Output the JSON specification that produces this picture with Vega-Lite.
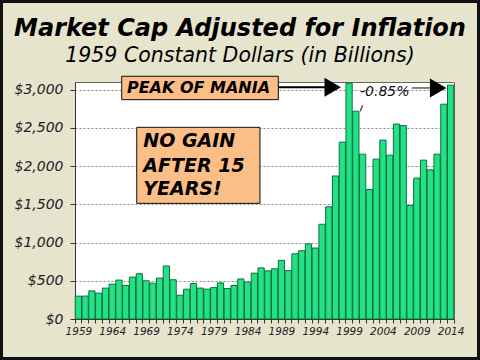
{
  "$schema": "https://vega.github.io/schema/vega-lite/v6.json",
  "width": 379,
  "height": 237,
  "autosize": "none",
  "padding": {"left": 75, "top": 82, "right": 26, "bottom": 41},
  "background": "#E6E4CC",
  "config": {
    "font": "DejaVu Sans",
    "view": {"fill": "white", "stroke": "#666", "strokeWidth": 1},
    "axisY": {
      "labelOverlap": false, "grid": true, "gridDash": [2, 2], "gridColor": "#888", "gridWidth": 1,
      "labelFont": "DejaVu Sans", "labelFontStyle": "italic", "labelFontSize": 14,
      "labelColor": "#222", "tickColor": "#333", "tickSize": 5, "domainColor": "#333",
      "labelPadding": 7, "tickCount": 7
    }
  },
  "title": {
    "text": "Market Cap Adjusted for Inflation",
    "subtitle": "1959 Constant Dollars (in Billions)",
    "anchor": "middle",
    "frame": "group",
    "dx": -24.5,
    "offset": -67,
    "font": "DejaVu Sans",
    "fontSize": 24,
    "fontStyle": "italic",
    "fontWeight": "bold",
    "color": "#000",
    "subtitleFont": "DejaVu Sans",
    "subtitleFontSize": 20.5,
    "subtitleFontStyle": "italic",
    "subtitleColor": "#000",
    "subtitlePadding": 5
  },
  "datasets": {
    "bars": [
      {"year": 1959, "value": 299}, {"year": 1960, "value": 300}, {"year": 1961, "value": 368},
      {"year": 1962, "value": 338}, {"year": 1963, "value": 404}, {"year": 1964, "value": 456},
      {"year": 1965, "value": 509}, {"year": 1966, "value": 439}, {"year": 1967, "value": 548},
      {"year": 1968, "value": 592}, {"year": 1969, "value": 500}, {"year": 1970, "value": 469},
      {"year": 1971, "value": 535}, {"year": 1972, "value": 693}, {"year": 1973, "value": 513},
      {"year": 1974, "value": 311}, {"year": 1975, "value": 390}, {"year": 1976, "value": 465},
      {"year": 1977, "value": 404}, {"year": 1978, "value": 390}, {"year": 1979, "value": 410},
      {"year": 1980, "value": 472}, {"year": 1981, "value": 399}, {"year": 1982, "value": 438},
      {"year": 1983, "value": 524}, {"year": 1984, "value": 482}, {"year": 1985, "value": 600},
      {"year": 1986, "value": 668}, {"year": 1987, "value": 629}, {"year": 1988, "value": 657},
      {"year": 1989, "value": 767}, {"year": 1990, "value": 634}, {"year": 1991, "value": 853},
      {"year": 1992, "value": 893}, {"year": 1993, "value": 982}, {"year": 1994, "value": 928},
      {"year": 1995, "value": 1239}, {"year": 1996, "value": 1468}, {"year": 1997, "value": 1871},
      {"year": 1998, "value": 2313}, {"year": 1999, "value": 3085}, {"year": 2000, "value": 2718},
      {"year": 2001, "value": 2156}, {"year": 2002, "value": 1694}, {"year": 2003, "value": 2091},
      {"year": 2004, "value": 2340}, {"year": 2005, "value": 2143}, {"year": 2006, "value": 2549},
      {"year": 2007, "value": 2530}, {"year": 2008, "value": 1485}, {"year": 2009, "value": 1843},
      {"year": 2010, "value": 2078}, {"year": 2011, "value": 1951}, {"year": 2012, "value": 2156},
      {"year": 2013, "value": 2810}, {"year": 2014, "value": 3059}
    ],
    "boxes": [
      {"name": "peak", "ax": 1965.4, "ax2": 1988.54, "value": 3175, "value2": 2869},
      {"name": "nogain", "ax": 1967.62, "ax2": 1985.83, "value": 2507, "value2": 1513}
    ],
    "peak": [{"ax": 1976.75, "value": 3022, "label": "PEAK OF MANIA"}],
    "nogain": [
      {"ax": 1968.59, "value": 2246, "label": "NO GAIN"},
      {"ax": 1968.59, "value": 1927, "label": "AFTER 15"},
      {"ax": 1968.59, "value": 1622, "label": "YEARS!"}
    ],
    "pct": [{"ax": 2000.61, "value": 2913, "label": "-0.85%"}],
    "arrow1": [{"ax": 1988.54, "ax2": 1995.6, "value": 3031, "value2": 3031}],
    "arrow2": [
      {"ax": 2008.25, "ax2": 2011.0, "value": 3022, "value2": 3022},
      {"ax": 2000.65, "ax2": 2001.0, "value": 2717, "value2": 2795}
    ],
    "heads": [
      {"ax": 1996.58, "value": 3031},
      {"ax": 2012.16, "value": 3022}
    ],
    "frame": [{"ax": 1947.64, "ax2": 2018.12, "value": 4153, "value2": -517}]
  },
  "layer": [
    {
      "data": {"name": "bars"},
      "mark": {"type": "bar", "fill": "#22E285", "stroke": "#0F6E3C", "strokeWidth": 1},
      "encoding": {
        "x": {
          "field": "year", "type": "ordinal",
          "scale": {"paddingInner": 0.08, "paddingOuter": 0.04},
          "axis": {
            "title": null, "labelAngle": 0, "tickBand": "extent",
            "labelExpr": "(datum.value - 1959) % 5 === 0 ? datum.value : ''",
            "labelFont": "DejaVu Sans", "labelFontStyle": "italic", "labelFontSize": 10.5,
            "labelColor": "#222", "tickColor": "#333", "tickSize": 4, "domainColor": "#333",
            "labelPadding": 3
          }
        },
        "y": {
          "field": "value", "type": "quantitative",
          "scale": {"domain": [0, 3100], "nice": false},
          "axis": {"title": null, "format": "$,.0f", "values": [0, 500, 1000, 1500, 2000, 2500, 3000]}
        }
      }
    },
    {
      "data": {"name": "boxes"},
      "mark": {"type": "rect", "fill": "#111", "xOffset": 3, "yOffset": 3},
      "encoding": {
        "x": {"field": "ax", "type": "quantitative", "scale": {"domain": [1958.5, 2014.5], "nice": false, "zero": false}, "axis": null},
        "x2": {"field": "ax2"},
        "y": {"field": "value", "type": "quantitative", "axis": {"title": null, "format": "$,.0f", "values": [0, 500, 1000, 1500, 2000, 2500, 3000]}},
        "y2": {"field": "value2"}
      }
    },
    {
      "data": {"name": "boxes"},
      "mark": {"type": "rect", "fill": "#FABE86", "stroke": "#111", "strokeWidth": 1},
      "encoding": {
        "x": {"field": "ax", "type": "quantitative", "scale": {"domain": [1958.5, 2014.5], "nice": false, "zero": false}, "axis": null},
        "x2": {"field": "ax2"},
        "y": {"field": "value", "type": "quantitative", "axis": {"title": null, "format": "$,.0f", "values": [0, 500, 1000, 1500, 2000, 2500, 3000]}},
        "y2": {"field": "value2"}
      }
    },
    {
      "data": {"name": "peak"},
      "mark": {"type": "text", "font": "DejaVu Sans", "fontSize": 16, "fontStyle": "italic", "fontWeight": "bold", "align": "center", "baseline": "middle", "color": "#000"},
      "encoding": {
        "x": {"field": "ax", "type": "quantitative", "scale": {"domain": [1958.5, 2014.5], "nice": false, "zero": false}, "axis": null},
        "y": {"field": "value", "type": "quantitative", "axis": {"title": null, "format": "$,.0f", "values": [0, 500, 1000, 1500, 2000, 2500, 3000]}},
        "text": {"field": "label"}
      }
    },
    {
      "data": {"name": "nogain"},
      "mark": {"type": "text", "font": "DejaVu Sans", "fontSize": 19, "fontStyle": "italic", "fontWeight": "bold", "align": "left", "baseline": "alphabetic", "color": "#000"},
      "encoding": {
        "x": {"field": "ax", "type": "quantitative", "scale": {"domain": [1958.5, 2014.5], "nice": false, "zero": false}, "axis": null},
        "y": {"field": "value", "type": "quantitative", "axis": {"title": null, "format": "$,.0f", "values": [0, 500, 1000, 1500, 2000, 2500, 3000]}},
        "text": {"field": "label"}
      }
    },
    {
      "data": {"name": "pct"},
      "mark": {"type": "text", "font": "DejaVu Sans", "fontSize": 14, "fontStyle": "italic", "align": "left", "baseline": "alphabetic", "color": "#111"},
      "encoding": {
        "x": {"field": "ax", "type": "quantitative", "scale": {"domain": [1958.5, 2014.5], "nice": false, "zero": false}, "axis": null},
        "y": {"field": "value", "type": "quantitative", "axis": {"title": null, "format": "$,.0f", "values": [0, 500, 1000, 1500, 2000, 2500, 3000]}},
        "text": {"field": "label"}
      }
    },
    {
      "data": {"name": "arrow1"},
      "mark": {"type": "rule", "color": "#000", "strokeWidth": 2},
      "encoding": {
        "x": {"field": "ax", "type": "quantitative", "scale": {"domain": [1958.5, 2014.5], "nice": false, "zero": false}, "axis": null},
        "x2": {"field": "ax2"},
        "y": {"field": "value", "type": "quantitative", "axis": {"title": null, "format": "$,.0f", "values": [0, 500, 1000, 1500, 2000, 2500, 3000]}},
        "y2": {"field": "value2"}
      }
    },
    {
      "data": {"name": "arrow2"},
      "mark": {"type": "rule", "color": "#444", "strokeWidth": 1.3},
      "encoding": {
        "x": {"field": "ax", "type": "quantitative", "scale": {"domain": [1958.5, 2014.5], "nice": false, "zero": false}, "axis": null},
        "x2": {"field": "ax2"},
        "y": {"field": "value", "type": "quantitative", "axis": {"title": null, "format": "$,.0f", "values": [0, 500, 1000, 1500, 2000, 2500, 3000]}},
        "y2": {"field": "value2"}
      }
    },
    {
      "data": {"name": "heads"},
      "mark": {"type": "point", "shape": "triangle-right", "filled": true, "fill": "#000", "opacity": 1, "size": 360, "strokeWidth": 0},
      "encoding": {
        "x": {"field": "ax", "type": "quantitative", "scale": {"domain": [1958.5, 2014.5], "nice": false, "zero": false}, "axis": null},
        "y": {"field": "value", "type": "quantitative", "axis": {"title": null, "format": "$,.0f", "values": [0, 500, 1000, 1500, 2000, 2500, 3000]}}
      }
    },
    {
      "data": {"name": "frame"},
      "mark": {"type": "rect", "fill": null, "fillOpacity": 0, "stroke": "#111", "strokeWidth": 3},
      "encoding": {
        "x": {"field": "ax", "type": "quantitative", "scale": {"domain": [1958.5, 2014.5], "nice": false, "zero": false}, "axis": null},
        "x2": {"field": "ax2"},
        "y": {"field": "value", "type": "quantitative", "axis": {"title": null, "format": "$,.0f", "values": [0, 500, 1000, 1500, 2000, 2500, 3000]}},
        "y2": {"field": "value2"}
      }
    }
  ],
  "resolve": {"scale": {"x": "independent"}, "axis": {"x": "independent"}}
}
